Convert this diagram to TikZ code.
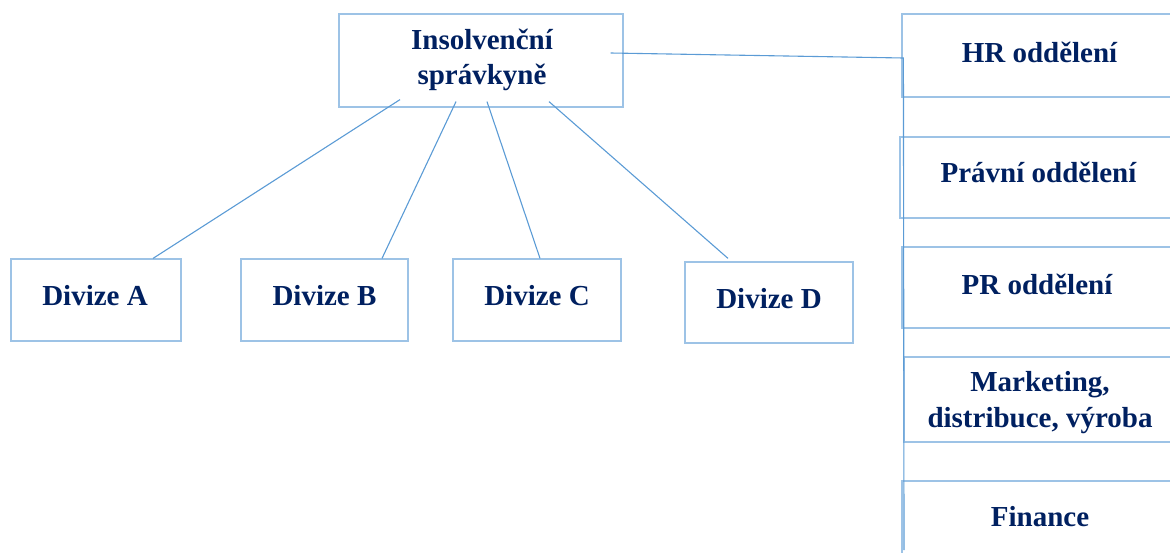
\documentclass[tikz,border=0pt]{standalone}
\usepackage{fontspec}
\setmainfont{Liberation Serif}
\usetikzlibrary{calc}
\definecolor{boxc}{HTML}{9DC3E6}
\definecolor{linec}{HTML}{5B9BD5}
\definecolor{txtc}{HTML}{002060}
\begin{document}
\begin{tikzpicture}[x=0.5pt,y=-0.5pt,
  box/.style={draw=boxc, line width=0.6pt, rectangle, inner sep=0pt, fill=none},
  txt/.style={text=txtc, font=\fontsize{14.5}{17.5}\selectfont\bfseries, align=center, inner sep=0pt},
  conn/.style={draw=linec, line width=0.55pt}]
\useasboundingbox (0,0) rectangle (1170,552);
% boxes
\node[box, minimum width=142pt, minimum height=46.5pt] (top) at (481,60.5) {};
\node[box, minimum width=85pt, minimum height=41pt] (A) at (96,300) {};
\node[box, minimum width=83.5pt, minimum height=41pt] (B) at (324.5,300) {};
\node[box, minimum width=84pt, minimum height=41pt] (C) at (537,300) {};
\node[box, minimum width=84pt, minimum height=40.5pt] (D) at (769,302.5) {};
\node[box, minimum width=139pt, minimum height=41.5pt] (hr) at (1041,55.5) {};
\node[box, minimum width=140pt, minimum height=40.5pt] (pravni) at (1040,177.5) {};
\node[box, minimum width=139pt, minimum height=40.5pt] (pr) at (1041,287.5) {};
\node[box, minimum width=138pt, minimum height=42.5pt] (mkt) at (1042,399.5) {};
\node[box, minimum width=139pt, minimum height=44.5pt] (fin) at (1041,525.5) {};
% texts
\node[txt] (topt) at (482,59.5) {Insolvenční\\správkyně};
\node[txt] (At) at (95,296) {Divize A};
\node[txt] (Bt) at (324.5,296) {Divize B};
\node[txt] (Ct) at (537,296) {Divize C};
\node[txt] (Dt) at (769,299) {Divize D};
\node[txt] (hrt) at (1039.5,52) {HR oddělení};
\node[txt] (pravnit) at (1038.5,172) {Právní oddělení};
\node[txt] (prt) at (1037,284) {PR oddělení};
\node[txt, font=\fontsize{14.5}{18}\selectfont\bfseries] (mktt) at (1040,403) {Marketing,\\distribuce, výroba};
\node[txt] (fint) at (1040,517) {Finance};
% connectors
\draw[conn] ($(top.south)+(-81,-8)$) -- ($(A.north)+(57,0)$);
\draw[conn] ($(top.south)+(-25,-6)$) -- ($(B.north)+(57.5,0)$);
\draw[conn] ($(top.south)+(6,-6)$) -- ($(C.north)+(3,0)$);
\draw[conn] ($(top.south)+(68,-6)$) -- ($(D.north)+(-41,-3)$);
\coordinate (bend) at ($(hr.west)+(2,2.5)$);
\coordinate (bottomend) at (904,550);
\draw[conn] ($(top.east)+(-13,-7.5)$) -- (bend) -- (bottomend);
\end{tikzpicture}
\end{document}
